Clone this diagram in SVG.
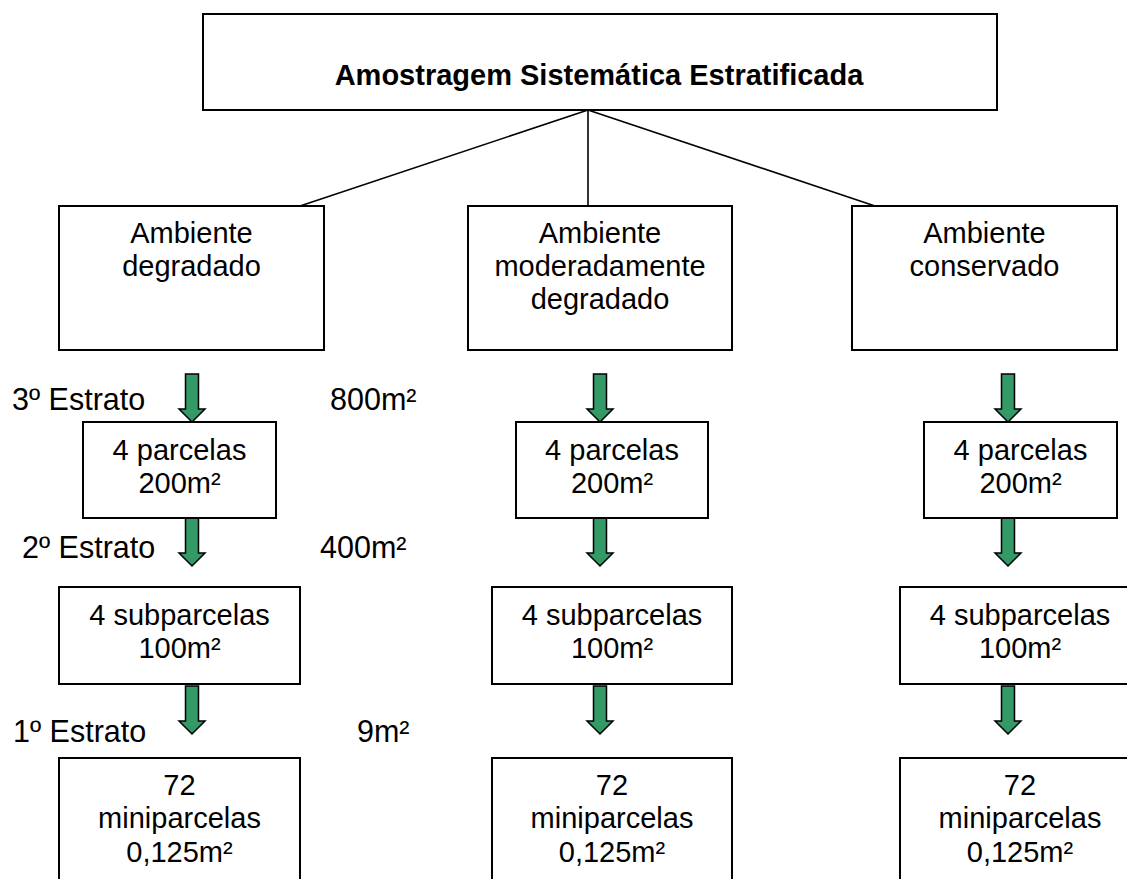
<svg xmlns="http://www.w3.org/2000/svg" width="1127" height="879" viewBox="0 0 1127 879">
<style>
.box{fill:#fff;stroke:#000;stroke-width:2}
.ln{stroke:#000;stroke-width:1.6;fill:none}
.t{font-family:"Liberation Sans",Arial,sans-serif;font-size:29px;fill:#000;text-anchor:middle}
.l{font-family:"Liberation Sans",Arial,sans-serif;font-size:30.5px;fill:#000}
.b{font-weight:bold}
.arr{fill:#339966;stroke:#000;stroke-width:1.5;stroke-linejoin:miter}
</style>
<defs>
<path id="ar" class="arr" d="M-6.5,0 H6.5 V35 H13 L0,48 L-13,35 H-6.5 Z"/>
</defs>
<rect width="1127" height="879" fill="#fff"/>
<g id="connectors">
<line class="ln" x1="588" y1="110" x2="300" y2="206"/>
<line class="ln" x1="588" y1="110" x2="588" y2="206"/>
<line class="ln" x1="588" y1="110" x2="875" y2="206"/>
</g>
<g id="title"><rect class="box" x="203" y="14" width="794" height="96"/><text class="t b" x="599" y="85">Amostragem Sistemática Estratificada</text></g>
<g id="amb-degradado"><rect class="box" x="59" y="206" width="265" height="144"/><text class="t" x="191.5" y="243">Ambiente</text><text class="t" x="191.5" y="276">degradado</text></g>
<g id="amb-moderado"><rect class="box" x="468" y="206" width="264" height="144"/><text class="t" x="600" y="243">Ambiente</text><text class="t" x="600" y="276">moderadamente</text><text class="t" x="600" y="309">degradado</text></g>
<g id="amb-conservado"><rect class="box" x="852" y="206" width="265" height="144"/><text class="t" x="984.5" y="243">Ambiente</text><text class="t" x="984.5" y="276">conservado</text></g>
<g id="arrows">
<use href="#ar" x="192" y="374"/><use href="#ar" x="192" y="518"/><use href="#ar" x="192" y="686"/>
<use href="#ar" x="600" y="374"/><use href="#ar" x="600" y="518"/><use href="#ar" x="600" y="686"/>
<use href="#ar" x="1008" y="374"/><use href="#ar" x="1008" y="518"/><use href="#ar" x="1008" y="686"/>
</g>
<g id="labels">
<text class="l" x="12" y="410">3º Estrato</text><text class="l" x="330" y="410">800m²</text>
<text class="l" x="22" y="558">2º Estrato</text><text class="l" x="320" y="558">400m²</text>
<text class="l" x="13" y="742">1º Estrato</text><text class="l" x="357" y="742">9m²</text>
</g>
<g id="parcelas-1"><rect class="box" x="83" y="422" width="193" height="96"/><text class="t" x="179.5" y="460">4 parcelas</text><text class="t" x="179.5" y="493">200m²</text></g>
<g id="parcelas-2"><rect class="box" x="516" y="422" width="192" height="96"/><text class="t" x="612" y="460">4 parcelas</text><text class="t" x="612" y="493">200m²</text></g>
<g id="parcelas-3"><rect class="box" x="924" y="422" width="193" height="96"/><text class="t" x="1020.5" y="460">4 parcelas</text><text class="t" x="1020.5" y="493">200m²</text></g>
<g id="sub-1"><rect class="box" x="59" y="587" width="241" height="97"/><text class="t" x="179.5" y="625">4 subparcelas</text><text class="t" x="179.5" y="658">100m²</text></g>
<g id="sub-2"><rect class="box" x="492" y="587" width="240" height="97"/><text class="t" x="612" y="625">4 subparcelas</text><text class="t" x="612" y="658">100m²</text></g>
<g id="sub-3"><rect class="box" x="900" y="587" width="240" height="97"/><text class="t" x="1020" y="625">4 subparcelas</text><text class="t" x="1020" y="658">100m²</text></g>
<g id="mini-1"><rect class="box" x="59" y="758" width="241" height="130"/><text class="t" x="179.5" y="795">72</text><text class="t" x="179.5" y="828">miniparcelas</text><text class="t" x="179.5" y="862">0,125m²</text></g>
<g id="mini-2"><rect class="box" x="492" y="758" width="240" height="130"/><text class="t" x="612" y="795">72</text><text class="t" x="612" y="828">miniparcelas</text><text class="t" x="612" y="862">0,125m²</text></g>
<g id="mini-3"><rect class="box" x="900" y="758" width="240" height="130"/><text class="t" x="1020" y="795">72</text><text class="t" x="1020" y="828">miniparcelas</text><text class="t" x="1020" y="862">0,125m²</text></g>
</svg>
